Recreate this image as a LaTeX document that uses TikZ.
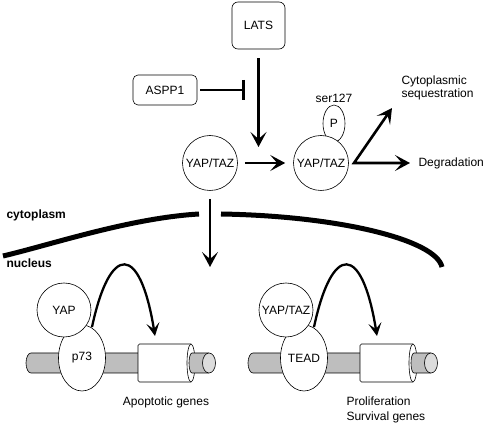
\documentclass[tikz,border=0pt]{standalone}
\usepackage{fontspec}
\setmainfont{Liberation Sans}
\usetikzlibrary{arrows.meta,shapes.geometric}
\definecolor{rodgray}{HTML}{BEBEBE}
\definecolor{capgray}{HTML}{DCDCDC}
\begin{document}
\begin{tikzpicture}[x=1pt,y=-1pt,
  every node/.style={font=\fontsize{12}{14}\selectfont},
  box/.style={draw,rounded corners=6pt,line width=0.6pt,inner sep=0},
  mol/.style={draw,circle,fill=white,line width=0.6pt,inner sep=0,minimum size=55pt},
  smol/.style={draw,circle,fill=white,line width=0.6pt,inner sep=0,minimum size=54pt},
  ell/.style={draw,ellipse,fill=white,line width=0.6pt,inner sep=0},
  tip/.style={Stealth[length=15pt,width=16pt,inset=7pt,line width=0.5pt]},
  ctip/.style={Stealth[length=13pt,width=13pt,inset=6pt,line width=0.5pt]},
  arr/.style={line width=2.6pt,-{Stealth[length=15pt,width=16pt,inset=7pt]}},
  inh/.style={line width=2.6pt,-{Bar[width=20pt]}},
  carr/.style={line width=2.3pt,-{Stealth[length=13pt,width=13pt,inset=6pt]}},
  membrane/.style={line width=5pt},
  thin/.style={line width=0.6pt},
  pics/gene/.style={code={
    \draw[thin,fill=rodgray] (112,-10) -- (5,-10) arc[start angle=90,end angle=270,x radius=5pt,y radius=10pt] -- (112,10);
    \draw[thin,fill=white,rounded corners=1.5pt] (165,-19) -- (112,-19) -- (112,19) -- (165,19);
    \draw[thin,fill=white] (165,0) ellipse[x radius=4pt,y radius=19pt];
    \draw[thin,fill=rodgray] (183,-10) -- (166,-10) arc[start angle=90,end angle=270,x radius=3pt,y radius=10pt] -- (183,10);
    \draw[thin,fill=capgray] (183,0) ellipse[x radius=6.5pt,y radius=10pt];
  }}
]
\useasboundingbox (0,0) rectangle (483,425);

% top part
\node[box,minimum width=53pt,minimum height=47pt] (lats) at (258.5,25.5) {LATS};
\node[box,minimum width=64pt,minimum height=30pt,rounded corners=5pt] (aspp) at (165,90) {ASPP1};
\node[mol] (y1) at (210,163) {YAP/TAZ};
\node[ell,minimum width=22pt,minimum height=37pt] (p) at (334,123.5) {P};
\node[mol] (y2) at (321,163) {YAP/TAZ};
\node (ser) at (334,98) {ser127};
\node[align=left,anchor=west,font=\fontsize{12}{13}\selectfont] (cyto) at (398,88) {Cytoplasmic\\sequestration};
\node[anchor=west] (deg) at (415,163) {Degradation};

\coordinate (c1) at (258.5,147);
\coordinate (c2) at (245,90);
\coordinate (br) at (354,163);
\coordinate (c3) at (392,108);
\coordinate (c4) at (410,163);
\coordinate (c5) at (210,267);

\draw[arr,shorten <=9pt] (lats.south) -- (c1);
\draw[inh,shorten <=3pt] (aspp.east) -- (c2);
\draw[arr,shorten <=7pt,shorten >=8pt] (y1) -- (y2);
\draw[line width=2.6pt,line join=miter,{Stealth[length=15pt,width=16pt,inset=7pt]}-{Stealth[length=15pt,width=16pt,inset=7pt]}] (c3) -- (br) -- (c4);
\draw[arr,shorten <=8pt] (y1) -- (c5);

% membrane
\draw[membrane] (3,256) .. controls (50,245) and (130,218) .. (199,214);
\draw[membrane] (221,214) .. controls (340,216) and (436,240) .. (442,267);
\node[anchor=west,font=\fontsize{12}{14}\selectfont\bfseries] (cytoplasm) at (3,215) {cytoplasm};
\node[anchor=west,font=\fontsize{12}{14}\selectfont\bfseries] (nucleus) at (3,263) {nucleus};

% left gene group
\pic at (26,363) {gene};
\node[ell,minimum width=47pt,minimum height=66pt] (p73) at (82,358) {p73};
\node[smol] (yap) at (64,310) {YAP};
\coordinate (s1) at (92,327);
\coordinate (e1) at (155,336);
\draw[carr] (s1) .. controls (110,243) and (140,243) .. (e1);
\node (apo) at (166,402) {Apoptotic genes};

% right gene group
\pic at (248,363) {gene};
\node[ell,minimum width=47pt,minimum height=66pt] (tead) at (304,358) {TEAD};
\node[smol] (yt) at (286,310) {YAP/TAZ};
\coordinate (s2) at (314,327);
\coordinate (e2) at (377,336);
\draw[carr] (s2) .. controls (332,243) and (362,243) .. (e2);
\node[align=left,anchor=west,font=\fontsize{12}{15}\selectfont] (prol) at (343,409.5) {Proliferation\\Survival genes};
\end{tikzpicture}
\end{document}
